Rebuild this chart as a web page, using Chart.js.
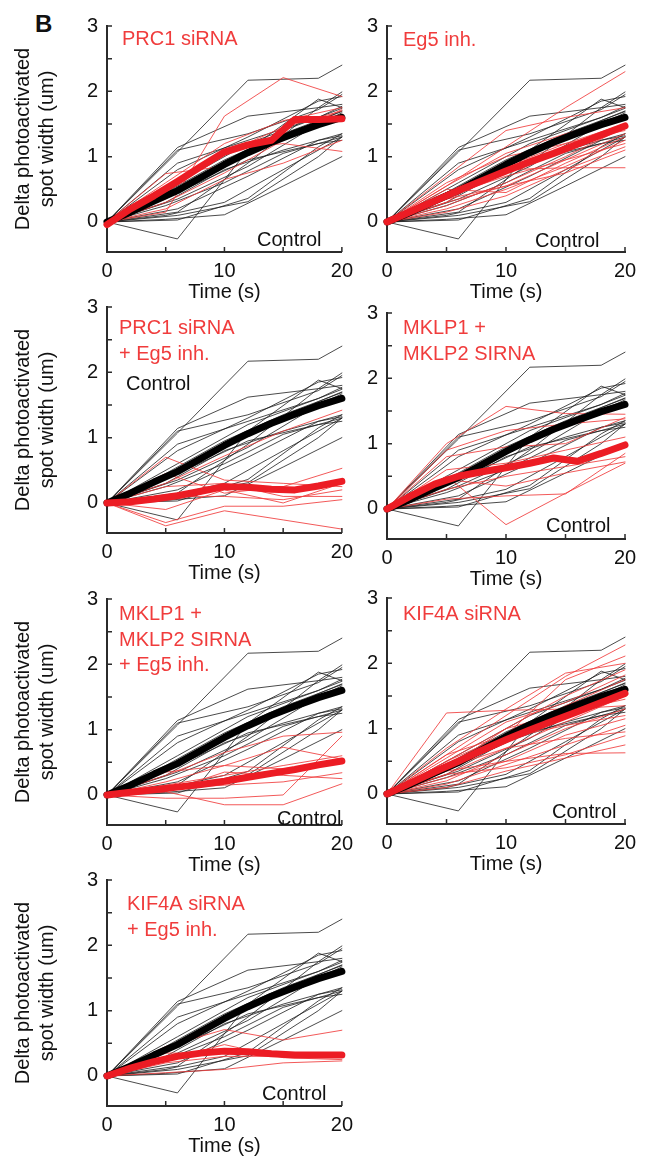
<!DOCTYPE html>
<html lang="en">
<head>
<meta charset="UTF-8">
<title>Photoactivated spot width</title>
<script src="https://cdn.jsdelivr.net/npm/chart.js"></script>
<style>
  html, body { margin: 0; padding: 0; background: #fff; overflow: hidden; }
  body { width: 657px; height: 1158px; position: relative; }
  canvas { position: absolute; }
  #panelLetter { position: absolute; left: 35px; top: 12px; font: bold 24px/24px "Liberation Sans", Arial, sans-serif; color: #111; }
</style>
</head>
<body>
<div id="panelLetter">B</div>
<script>
// time points (s)
const meanTimes = [0, 2, 4, 6, 8, 10, 12, 14, 16, 18, 20];
const controlTimesA = [0, 6, 12, 18, 20];
const controlTimesB = [0, 5, 10, 15, 20];
const treatTimes = [0, 5, 10, 15, 20];

// control cells (same in every panel)
const controlLinesA = [
  [0, 1.07, 2.17, 2.2, 2.4],
  [0, -0.26, 1.1, 1.88, 1.75],
  [0, 1.14, 1.62, 1.75, 1.8],
  [0, 1.1, 1.35, 1.72, 1.95],
  [0, 0.03, 0.36, 1.15, 1.35],
  [0, 0.5, 1.05, 1.55, 1.7],
  [0, 0.6, 1.2, 1.6, 1.77],
  [0, 0.35, 0.85, 1.5, 1.67],
  [0, 0.2, 0.7, 1.25, 1.32],
  [0, 0.15, 0.9, 1.75, 1.99],
  [0, 0.8, 1.3, 1.85, 1.92],
  [0, 0.1, 0.31, 1.0, 1.3],
  [0, 0.45, 0.95, 1.2, 1.25],
  [0, 0.9, 1.25, 1.6, 1.74]
];
const controlLinesB = [
  [0, 0.04, 0.11, 0.55, 1.0],
  [0, 0.1, 0.3, 0.8, 1.3],
  [0, 0.3, 0.8, 1.1, 1.35],
  [0, 0.45, 0.95, 1.35, 1.69],
  [0, 0.25, 0.6, 1.05, 1.3]
];
const controlMean = [0, 0.15, 0.32, 0.48, 0.68, 0.88, 1.06, 1.22, 1.36, 1.49, 1.6];

// treated cells
const prc1Lines = [
  [0, 0.15, 1.62, 2.21, 1.92],
  [0, 0.74, 0.85, 1.3, 1.72],
  [0, 0.55, 1.1, 1.2, 1.08],
  [0, 0.3, 0.75, 1.25, 1.65],
  [0, 0.2, 0.65, 0.9, 1.25],
  [0, 0.45, 1.05, 1.45, 1.7],
  [0, 0.35, 0.9, 1.35, 1.6],
  [0, 0.6, 1.2, 1.55, 1.75]
];
const prc1Mean = [-0.04, 0.2, 0.4, 0.62, 0.85, 1.07, 1.18, 1.25, 1.57, 1.57, 1.58];

const eg5Lines = [
  [0, 0.55, 1.15, 1.75, 2.3],
  [0, 0.7, 1.4, 1.6, 1.75],
  [0, 0.3, 0.9, 1.3, 1.6],
  [0, 0.45, 0.85, 1.2, 1.5],
  [0, 0.25, 0.6, 1.0, 1.45],
  [0, 0.35, 0.55, 0.95, 1.35],
  [0, 0.5, 0.45, 0.9, 1.3],
  [0, 0.2, 0.5, 0.85, 1.25],
  [0, 0.4, 0.7, 0.95, 1.2],
  [0, 0.15, 0.4, 0.8, 1.15],
  [0, 0.45, 0.8, 0.83, 0.83],
  [0, 0.6, 1.0, 1.2, 1.4],
  [0, 0.3, 0.55, 0.75, 1.1],
  [0, 0.55, 1.05, 1.35, 1.6]
];
const eg5Mean = [0, 0.16, 0.32, 0.48, 0.63, 0.78, 0.92, 1.05, 1.19, 1.33, 1.47];

const prc1Eg5Lines = [
  [0, 0.7, 0.35, 0.3, 0.25],
  [0, -0.35, -0.12, -0.26, -0.4],
  [0, 0.45, 0.15, 0.25, 0.53],
  [0, -0.3, -0.05, -0.05, 0.05],
  [0, 0.1, 0.1, 0.05, 0.2],
  [0, 0.3, 0.72, 1.1, 1.42],
  [0, 0.25, 0.3, 0.1, 0.1],
  [0, -0.1, 0.2, 0.0, 0.3]
];
const prc1Eg5Mean = [0, 0.02, 0.06, 0.11, 0.18, 0.25, 0.24, 0.21, 0.2, 0.26, 0.33];

const mklpLines = [
  [0, 1.0, 1.57, 1.46, 1.45],
  [0, 0.5, -0.24, 0.24, 0.7],
  [0, 0.15, 0.2, 0.23, 0.85],
  [0, 0.8, 0.95, 1.0, 1.4],
  [0, 0.3, 0.5, 0.65, 0.8],
  [0, 0.6, 0.7, 0.9, 1.1],
  [0, 0.45, 0.35, 0.55, 0.72],
  [0, 0.9, 1.2, 1.3, 1.38]
];
const mklpMean = [0, 0.2, 0.38, 0.5, 0.57, 0.63, 0.7, 0.78, 0.73, 0.85, 0.98];

const mklpEg5Lines = [
  [0, 0.3, 0.65, 0.9, 0.96],
  [0, 0.05, -0.15, -0.15, 0.17],
  [0, 0.2, 0.45, 0.73, 0.55],
  [0, 0.1, 0.15, 0.2, 0.34],
  [0, -0.05, -0.05, 0.0, 0.9],
  [0, 0.35, 0.45, 0.4, 0.5],
  [0, 0.15, 0.3, 0.45, 0.6],
  [0, 0.05, 0.35, 0.3, 0.25]
];
const mklpEg5Mean = [0, 0.04, 0.08, 0.12, 0.16, 0.21, 0.27, 0.33, 0.39, 0.46, 0.52];

const kif4aLines = [
  [0, 1.24, 1.28, 1.3, 1.35],
  [0, 0.6, 1.2, 1.8, 2.28],
  [0, 0.5, 0.9, 1.75, 2.11],
  [0, 0.7, 1.3, 1.85, 2.0],
  [0, 0.4, 1.0, 1.5, 1.9],
  [0, 0.55, 1.1, 1.4, 1.82],
  [0, 0.35, 0.8, 1.35, 1.75],
  [0, 0.6, 0.9, 1.2, 1.6],
  [0, 0.3, 0.7, 1.1, 1.5],
  [0, 0.5, 1.0, 1.25, 1.45],
  [0, 0.2, 0.6, 1.0, 1.3],
  [0, 0.45, 0.85, 1.05, 1.2],
  [0, 0.25, 0.5, 0.9, 1.15],
  [0, 0.15, 0.45, 0.75, 1.05],
  [0, 0.4, 0.7, 0.85, 0.95],
  [0, 0.3, 0.4, 0.6, 0.89],
  [0, 0.1, 0.35, 0.55, 0.75],
  [0, 0.35, 0.5, 0.62, 0.63]
];
const kif4aMean = [0, 0.17, 0.34, 0.5, 0.67, 0.83, 0.98, 1.12, 1.26, 1.4, 1.54];

const kif4aEg5Lines = [
  [0, 0.45, 0.71, 0.55, 0.7],
  [0, 0.25, 0.48, 0.28, 0.25],
  [0, 0.05, 0.1, 0.2, 0.23],
  [0, 0.35, 0.35, 0.3, 0.35],
  [0, 0.2, 0.3, 0.3, 0.3]
];
const kif4aEg5Mean = [0, 0.12, 0.22, 0.3, 0.35, 0.38, 0.37, 0.34, 0.32, 0.32, 0.32];

const xTicks = [0, 10, 20];
const yTicks = [0, 1, 2, 3];
const yTitle = ['Delta photoactivated', 'spot width (um)'];

const FONT = '"Liberation Sans", Arial, sans-serif';
const RED = '#ec1c24';
const RED_TEXT = '#f03c3c';
const THIN_RED = 'rgba(240, 60, 60, 0.85)';
const THIN_BLACK = 'rgba(30, 30, 30, 0.8)';
const AXIS = '#2b2b2b';

// panel layout: canvas position + text offsets from the plot corner
const panels = [
  { left: 0,   top: 5,   lines: prc1Lines,     mean: prc1Mean,     label: ['PRC1 siRNA'], labelAt: [15, 19], ctrlAt: [150, 220] },
  { left: 360, top: 5,   lines: eg5Lines,      mean: eg5Mean,      label: ['Eg5 inh.'], labelAt: [16, 20], ctrlAt: [148, 221] },
  { left: 0,   top: 286, lines: prc1Eg5Lines,  mean: prc1Eg5Mean,  label: ['PRC1 siRNA', '+ Eg5 inh.'], labelAt: [12, 27], ctrlAt: [19, 83] },
  { left: 360, top: 292, lines: mklpLines,     mean: mklpMean,     label: ['MKLP1 +', 'MKLP2 SIRNA'], labelAt: [16, 21], ctrlAt: [159, 219] },
  { left: 0,   top: 578, lines: mklpEg5Lines,  mean: mklpEg5Mean,  label: ['MKLP1 +', 'MKLP2 SIRNA', '+ Eg5 inh.'], labelAt: [12, 21], ctrlAt: [170, 226] },
  { left: 360, top: 577, lines: kif4aLines,    mean: kif4aMean,    label: ['KIF4A siRNA'], labelAt: [16, 22], ctrlAt: [165, 220] },
  { left: 0,   top: 859, lines: kif4aEg5Lines, mean: kif4aEg5Mean, label: ['KIF4A siRNA', '+ Eg5 inh.'], labelAt: [20, 30], ctrlAt: [155, 220] }
];

Chart.defaults.font.family = FONT;
Chart.defaults.font.size = 20;
Chart.defaults.color = '#111';

function toPoints(times, values) {
  return times.map((t, i) => ({ x: t, y: values[i] }));
}

// short tick marks pointing into the plot
const innerTicks = {
  id: 'innerTicks',
  afterDraw(chart) {
    const { ctx, chartArea: a, scales } = chart;
    ctx.save();
    ctx.strokeStyle = AXIS;
    ctx.lineWidth = 1.5;
    ctx.beginPath();
    for (let v = 5; v <= 20; v += 5) {
      const x = scales.x.getPixelForValue(v);
      ctx.moveTo(x, a.bottom);
      ctx.lineTo(x, a.bottom - 5);
    }
    for (let v = 0.5; v <= 3; v += 0.5) {
      const y = scales.y.getPixelForValue(v);
      ctx.moveTo(a.left, y);
      ctx.lineTo(a.left + 5, y);
    }
    ctx.stroke();
    ctx.restore();
  }
};

// condition name and "Control" inside each panel
const panelText = {
  id: 'panelText',
  afterDraw(chart, args, opts) {
    const { ctx, chartArea: a } = chart;
    ctx.save();
    ctx.font = '20px ' + FONT;
    ctx.textAlign = 'left';
    ctx.textBaseline = 'alphabetic';
    ctx.fillStyle = RED_TEXT;
    opts.label.forEach((line, i) => {
      ctx.fillText(line, a.left + opts.labelAt[0], a.top + opts.labelAt[1] + i * 25.5);
    });
    ctx.fillStyle = '#111';
    ctx.fillText('Control', a.left + opts.ctrlAt[0], a.top + opts.ctrlAt[1]);
    ctx.restore();
  }
};

panels.forEach((p, idx) => {
  const leftCol = p.left === 0;
  const canvas = document.createElement('canvas');
  canvas.width = leftCol ? 360 : 297;
  canvas.height = 301;
  canvas.style.left = p.left + 'px';
  canvas.style.top = p.top + 'px';
  document.body.appendChild(canvas);

  const datasets = [];
  controlLinesA.forEach(v => datasets.push({ data: toPoints(controlTimesA, v), borderColor: THIN_BLACK, borderWidth: 1, order: 4 }));
  controlLinesB.forEach(v => datasets.push({ data: toPoints(controlTimesB, v), borderColor: THIN_BLACK, borderWidth: 1, order: 4 }));
  p.lines.forEach(v => datasets.push({ data: toPoints(treatTimes, v), borderColor: THIN_RED, borderWidth: 1, order: 3 }));
  datasets.push({ data: toPoints(meanTimes, controlMean), borderColor: '#000', borderWidth: 7, order: 2 });
  datasets.push({ data: toPoints(meanTimes, p.mean), borderColor: RED, borderWidth: 7, order: 1 });

  new Chart(canvas, {
    type: 'line',
    data: { datasets },
    options: {
      responsive: false,
      animation: false,
      events: [],
      clip: false,
      datasets: {
        line: { pointRadius: 0, tension: 0, fill: false, borderJoinStyle: 'round', borderCapStyle: 'round' }
      },
      layout: { padding: { top: 14, bottom: 2, left: 0, right: leftCol ? 15 : 32 } },
      plugins: {
        legend: { display: false },
        tooltip: { enabled: false },
        panelText: { label: p.label, labelAt: p.labelAt, ctrlAt: p.ctrlAt }
      },
      scales: {
        x: {
          type: 'linear', min: 0, max: 20,
          ticks: {
            stepSize: 5, autoSkip: false, maxRotation: 0, padding: 7,
            callback: v => xTicks.includes(v) ? v : ''
          },
          grid: { drawOnChartArea: false, drawTicks: false },
          border: { color: AXIS, width: 2 },
          title: { display: true, text: 'Time (s)', padding: 0 },
          afterFit: s => { s.height = 52; }
        },
        y: {
          type: 'linear', min: -0.46, max: 3,
          ticks: {
            stepSize: 0.5, padding: 9,
            callback: v => yTicks.includes(v) ? v : ''
          },
          grid: { drawOnChartArea: false, drawTicks: false },
          border: { color: AXIS, width: 2 },
          title: { display: leftCol, text: yTitle, padding: { top: 11, bottom: 0 } },
          afterFit: s => { s.width = leftCol ? 107 : 27; }
        }
      }
    },
    plugins: [innerTicks, panelText]
  });
});
</script>
</body>
</html>
